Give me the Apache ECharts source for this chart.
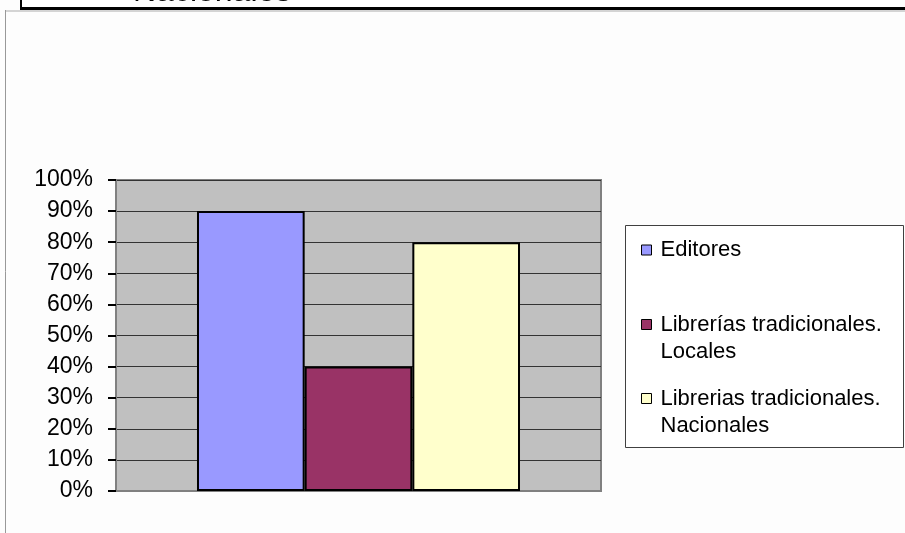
<!DOCTYPE html>
<html>
<head>
<meta charset="utf-8">
<script src="https://cdn.jsdelivr.net/npm/echarts@6/dist/echarts.min.js"></script>
<style>
  html, body { margin: 0; padding: 0; background: #fdfdfd; }
  #chart { width: 905px; height: 533px; }
</style>
</head>
<body>
<div id="chart"></div>
<script>
var categories = ['']
var seriesNames = ['Editores', 'Librerías tradicionales.\nLocales', 'Librerias tradicionales.\nNacionales']
var seriesValues = [[90], [40], [80]]
var seriesColors = ['#9999ff', '#993366', '#ffffcc']

var chartDom = document.getElementById('chart')
var myChart = echarts.init(chartDom)
var option

var font = 'Liberation Sans, Arial, sans-serif'

var series = seriesNames.map(function (name, i) {
  return {
    name: name,
    type: 'bar',
    barGap: '0%',
    barCategoryGap: '33.4%',
    data: seriesValues[i],
    itemStyle: {
      color: seriesColors[i],
      borderColor: '#000',
      borderWidth: 2
    }
  }
})

option = {
  backgroundColor: '#fdfdfd',
  animation: false,
  grid: {
    left: 116,
    right: 304,
    top: 180,
    bottom: 42,
    show: true,
    backgroundColor: '#c0c0c0',
    borderColor: '#808080',
    borderWidth: 2
  },
  legend: {
    orient: 'vertical',
    left: 641,
    top: 209,
    padding: 0,
    itemWidth: 10,
    itemHeight: 10,
    itemGap: -7,
    icon: 'rect',
    itemStyle: { borderColor: '#000', borderWidth: 1 },
    // empty first line so the marker sits beside the first line of two-line names
    formatter: function (name) {
      return name.indexOf('\n') >= 0 ? '\n' + name : name
    },
    textStyle: { fontFamily: font, fontSize: 22, color: '#000', lineHeight: 27, padding: [0, 0, 0, 4] },
    data: [
      { name: seriesNames[0], textStyle: { lineHeight: 82 } },
      { name: seriesNames[1] },
      { name: seriesNames[2] }
    ]
  },
  xAxis: {
    type: 'category',
    data: categories,
    axisLine: { show: true, lineStyle: { color: '#808080', width: 2 } },
    axisTick: { show: false },
    axisLabel: { show: false },
    splitLine: { show: false }
  },
  yAxis: {
    type: 'value',
    min: 0,
    max: 100,
    interval: 10,
    axisLine: { show: true, lineStyle: { color: '#808080', width: 2 } },
    axisTick: { show: true, length: 8, lineStyle: { color: '#000', width: 2 } },
    axisLabel: {
      formatter: '{value}%',
      margin: 23,
      fontFamily: font,
      fontSize: 23,
      color: '#000'
    },
    splitLine: { show: true, lineStyle: { color: '#333', width: 1 } }
  },
  graphic: [
    {
      type: 'rect',
      shape: { x: 625.5, y: 225.5, width: 278, height: 222 },
      style: { fill: '#fff', stroke: '#404040', lineWidth: 1 }
    },
    {
      type: 'text',
      x: 133,
      y: 8.5,
      style: { text: 'Nacionales', font: '32px Liberation Sans, Arial, sans-serif', fill: '#000', verticalAlign: 'bottom' }
    },
    { type: 'line', shape: { x1: 21, y1: 0, x2: 21, y2: 9 }, style: { stroke: '#000', lineWidth: 2 } },
    { type: 'line', shape: { x1: 20, y1: 8.5, x2: 905, y2: 8.5 }, style: { stroke: '#000', lineWidth: 3 } },
    { type: 'line', shape: { x1: 5, y1: 11, x2: 905, y2: 11 }, style: { stroke: '#d4d4d4', lineWidth: 2 } },
    { type: 'line', shape: { x1: 5.5, y1: 10, x2: 5.5, y2: 533 }, style: { stroke: '#999', lineWidth: 1 } }
  ],
  series: series
}

option && myChart.setOption(option)
</script>
</body>
</html>
